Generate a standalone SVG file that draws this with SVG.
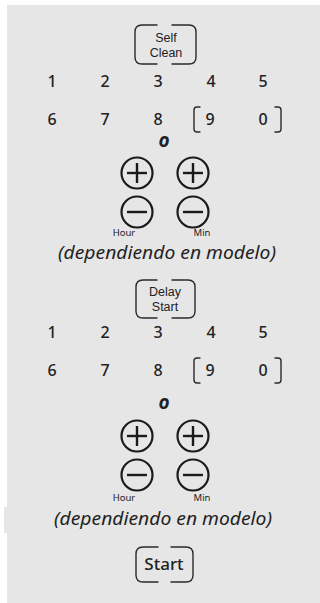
<svg xmlns="http://www.w3.org/2000/svg" width="320" height="603" viewBox="0 0 320 603">
<style>
.bg{fill:#e6e6e6}
.frame{fill:none;stroke:#2a2a2a;stroke-width:1.4;stroke-linecap:round}
.btn{font-family:"Liberation Sans",Arial,sans-serif;font-size:12.5px;fill:#222;text-anchor:middle}
.start{font-family:"Noto Sans","Open Sans",sans-serif;font-size:17px;font-weight:500;fill:#222;text-anchor:middle}
.num{font-family:"Noto Sans","Open Sans",sans-serif;font-size:16px;font-weight:500;fill:#222;text-anchor:middle}
.or{font-family:"Noto Sans","Open Sans",sans-serif;font-size:19px;font-style:italic;font-weight:bold;fill:#222;text-anchor:middle}
.small{font-family:"Noto Sans","Open Sans",sans-serif;font-size:9.5px;fill:#222;text-anchor:middle}
.note{font-family:"Noto Sans","Open Sans",sans-serif;font-size:18px;font-style:italic;font-weight:normal;fill:#222;text-anchor:middle}
.ring{fill:none;stroke:#1a1a1a;stroke-width:2.2}
.bar{stroke:#1a1a1a;stroke-width:2.4;stroke-linecap:butt}
</style>
<rect class="bg" x="7" y="5" width="313" height="598"/>
<rect class="bg" x="4" y="507" width="4" height="26"/>

<g id="self-clean">
<path class="frame" d="M157 25 H142 Q135 25 135 32 V57 Q135 64 142 64 H157"/>
<path class="frame" d="M172 25 H189 Q196 25 196 32 V57 Q196 64 189 64 H172"/>
<text class="btn" x="166" y="42">Self</text>
<text class="btn" x="166" y="57">Clean</text>
</g>

<g id="keypad-1">
<text class="num" x="52" y="87">1</text>
<text class="num" x="105" y="87">2</text>
<text class="num" x="158" y="87">3</text>
<text class="num" x="211" y="87">4</text>
<text class="num" x="263" y="87">5</text>
<text class="num" x="52" y="125">6</text>
<text class="num" x="105" y="125">7</text>
<text class="num" x="158" y="125">8</text>
<text class="num" x="210" y="125">9</text>
<text class="num" x="263" y="125">0</text>
<path class="frame" d="M200 107 H197 Q194 107 194 110 V129 Q194 132 197 132 H200"/>
<path class="frame" d="M275 107 H278 Q281 107 281 110 V129 Q281 132 278 132 H275"/>
</g>

<g id="or-1"><text class="or" x="164" y="147">o</text></g>

<g id="hour-min-1">
<circle class="ring" cx="137" cy="173" r="15.5"/>
<line class="bar" x1="127" y1="173" x2="147" y2="173"/>
<line class="bar" x1="137" y1="163" x2="137" y2="183"/>
<circle class="ring" cx="193" cy="173" r="15.5"/>
<line class="bar" x1="183" y1="173" x2="203" y2="173"/>
<line class="bar" x1="193" y1="163" x2="193" y2="183"/>
<circle class="ring" cx="137" cy="212" r="15.5"/>
<line class="bar" x1="127" y1="212" x2="147" y2="212"/>
<circle class="ring" cx="193" cy="212" r="15.5"/>
<line class="bar" x1="183" y1="212" x2="203" y2="212"/>
<text class="small" x="124" y="236">Hour</text>
<text class="small" x="202" y="236">Min</text>
</g>

<g id="note-1"><text class="note" x="167" y="259" textLength="218" lengthAdjust="spacingAndGlyphs">(dependiendo en modelo)</text></g>

<g id="delay-start">
<path class="frame" d="M157 280 H143 Q136 280 136 287 V311 Q136 318 143 318 H157"/>
<path class="frame" d="M172 280 H188 Q195 280 195 287 V311 Q195 318 188 318 H172"/>
<text class="btn" x="165" y="296">Delay</text>
<text class="btn" x="165" y="311">Start</text>
</g>

<g id="keypad-2">
<text class="num" x="52" y="338">1</text>
<text class="num" x="105" y="338">2</text>
<text class="num" x="158" y="338">3</text>
<text class="num" x="211" y="338">4</text>
<text class="num" x="263" y="338">5</text>
<text class="num" x="52" y="376">6</text>
<text class="num" x="105" y="376">7</text>
<text class="num" x="158" y="376">8</text>
<text class="num" x="210" y="376">9</text>
<text class="num" x="263" y="376">0</text>
<path class="frame" d="M200 358 H197 Q194 358 194 361 V380 Q194 383 197 383 H200"/>
<path class="frame" d="M275 358 H278 Q281 358 281 361 V380 Q281 383 278 383 H275"/>
</g>

<g id="or-2"><text class="or" x="164" y="409">o</text></g>

<g id="hour-min-2">
<circle class="ring" cx="137" cy="436" r="15.5"/>
<line class="bar" x1="127" y1="436" x2="147" y2="436"/>
<line class="bar" x1="137" y1="426" x2="137" y2="446"/>
<circle class="ring" cx="193" cy="436" r="15.5"/>
<line class="bar" x1="183" y1="436" x2="203" y2="436"/>
<line class="bar" x1="193" y1="426" x2="193" y2="446"/>
<circle class="ring" cx="137" cy="475" r="15.5"/>
<line class="bar" x1="127" y1="475" x2="147" y2="475"/>
<circle class="ring" cx="193" cy="475" r="15.5"/>
<line class="bar" x1="183" y1="475" x2="203" y2="475"/>
<text class="small" x="124" y="501">Hour</text>
<text class="small" x="202" y="501">Min</text>
</g>

<g id="note-2"><text class="note" x="163" y="525" textLength="218" lengthAdjust="spacingAndGlyphs">(dependiendo en modelo)</text></g>

<g id="start">
<path class="frame" d="M158 547 H143 Q136 547 136 554 V575 Q136 582 143 582 H158"/>
<path class="frame" d="M171 547 H186 Q193 547 193 554 V575 Q193 582 186 582 H171"/>
<text class="start" x="164" y="570">Start</text>
</g>
</svg>
